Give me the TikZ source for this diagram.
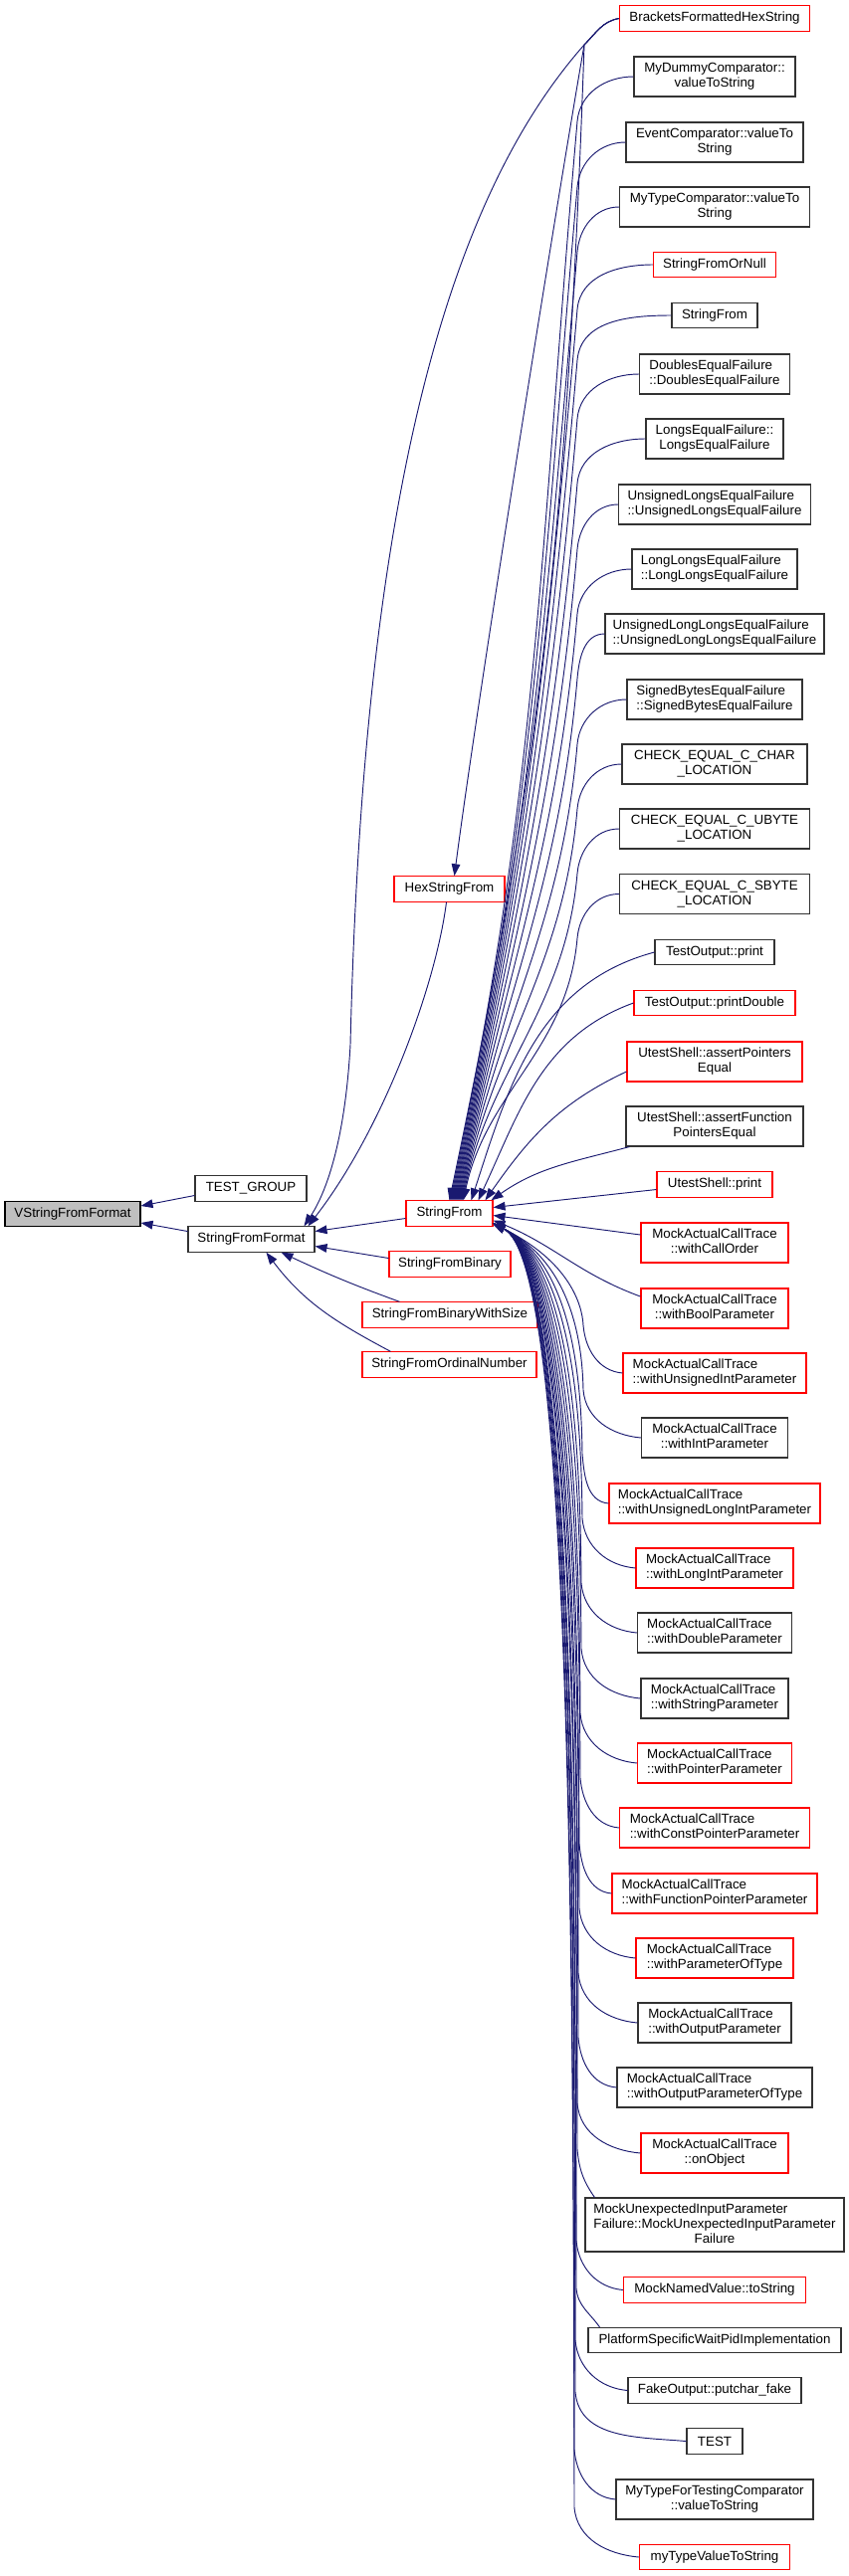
\documentclass[tikz,border=0pt]{standalone}
\usepackage{fontspec}
\setmainfont{Liberation Sans}
\usetikzlibrary{arrows.meta, calc}
\definecolor{edgeblue}{RGB}{25,25,112}
\definecolor{rootgrey}{RGB}{191,191,191}
\definecolor{truncred}{RGB}{255,0,0}
\newcommand{\dlabel}[2]{\begin{tabular}{@{}l@{}}#1\\\multicolumn{1}{@{}c@{}}{#2}\end{tabular}}
\tikzset{
  >={Triangle[length=9pt,width=6.5pt]},
  calledge/.style={->, draw=edgeblue, line width=0.7pt},
  fn/.style={draw=black!80, fill=white, line width=0.8pt,
             inner sep=0pt, minimum height=19pt},
  fn2/.style={fn, minimum height=30pt},
  fn3/.style={fn, minimum height=40.5pt},
  trunc/.style={draw=truncred},
  rootfn/.style={fill=rootgrey, draw=black},
  wd/.style={minimum width=#1*0.75pt},
}

\begin{document}
\begin{tikzpicture}[x=0.75pt, y=-0.75pt, font=\fontsize{10}{11.25}\selectfont]

  \fill[white] (0,0) rectangle (853,2589);
  \useasboundingbox (0,0) rectangle (853,2589);

  % ---- Left: the function and its callers ----
  \node[fn, rootfn, wd=136] (vsff) at (73,1220) {VStringFromFormat};
  \node[fn, wd=112] (testgroup) at (252,1194.5) {TEST\_GROUP};
  \node[fn, wd=127] (sff) at (252.5,1245.5) {StringFromFormat};

  % ---- Middle column ----
  \node[fn, trunc, wd=111] (hexsf) at (451.5,893.5) {HexStringFrom};
  \node[fn, trunc, wd=87]  (sfrom) at (451.5,1219.5) {StringFrom};
  \node[fn, trunc, wd=122] (sfbin) at (452,1270.5) {StringFromBinary};
  \node[fn, trunc, wd=176] (sfbws) at (452,1321.5) {StringFromBinaryWithSize};
  \node[fn, trunc, wd=175] (sford) at (451.5,1371.5) {StringFromOrdinalNumber};

  % ---- Right column ----
  \node[fn, trunc, wd=191] (bfhs) at (718,18.5) {BracketsFormattedHexString};
  \node[fn2, wd=162] (mydummy) at (718,77) {\dlabel{MyDummyComparator::}{valueToString}};
  \node[fn2, wd=178] (eventcmp) at (718,143) {\dlabel{EventComparator::valueTo}{String}};
  \node[fn2, wd=191] (mytypecmp) at (718,208) {\dlabel{MyTypeComparator::valueTo}{String}};
  \node[fn, trunc, wd=123] (sfornull) at (718,266) {StringFromOrNull};
  \node[fn, wd=86] (sfrom2) at (718,317) {StringFrom};
  \node[fn2, wd=151] (doubles) at (718,376) {\dlabel{DoublesEqualFailure}{::DoublesEqualFailure}};
  \node[fn2, wd=138] (longs) at (718,441) {\dlabel{LongsEqualFailure::}{LongsEqualFailure}};
  \node[fn2, wd=193] (ulongs) at (718,507) {\dlabel{UnsignedLongsEqualFailure}{::UnsignedLongsEqualFailure}};
  \node[fn2, wd=166] (llongs) at (718,572) {\dlabel{LongLongsEqualFailure}{::LongLongsEqualFailure}};
  \node[fn2, wd=220] (ullongs) at (718,637) {\dlabel{UnsignedLongLongsEqualFailure}{::UnsignedLongLongsEqualFailure}};
  \node[fn2, wd=176] (sbytes) at (718,703) {\dlabel{SignedBytesEqualFailure}{::SignedBytesEqualFailure}};
  \node[fn2, wd=186] (cchar) at (718,768) {\dlabel{CHECK\_EQUAL\_C\_CHAR}{\_LOCATION}};
  \node[fn2, wd=191] (cubyte) at (718,833) {\dlabel{CHECK\_EQUAL\_C\_UBYTE}{\_LOCATION}};
  \node[fn2, wd=191] (csbyte) at (718,898.5) {\dlabel{CHECK\_EQUAL\_C\_SBYTE}{\_LOCATION}};
  \node[fn, wd=120] (toprint) at (718,957) {TestOutput::print};
  \node[fn, trunc, wd=162] (toprintd) at (718,1008) {TestOutput::printDouble};
  \node[fn2, trunc, wd=176] (utptr) at (718,1067) {\dlabel{UtestShell::assertPointers}{Equal}};
  \node[fn2, wd=178] (utfptr) at (718,1132) {\dlabel{UtestShell::assertFunction}{PointersEqual}};
  \node[fn, trunc, wd=116] (utprint) at (718,1190.5) {UtestShell::print};
  \node[fn2, trunc, wd=148] (mcallorder) at (718,1249) {\dlabel{MockActualCallTrace}{::withCallOrder}};
  \node[fn2, trunc, wd=148] (mbool) at (718,1315) {\dlabel{MockActualCallTrace}{::withBoolParameter}};
  \node[fn2, trunc, wd=184] (muint) at (718,1380) {\dlabel{MockActualCallTrace}{::withUnsignedIntParameter}};
  \node[fn2, wd=147] (mint) at (718,1445) {\dlabel{MockActualCallTrace}{::withIntParameter}};
  \node[fn2, trunc, wd=212] (mulong) at (718,1511) {\dlabel{MockActualCallTrace}{::withUnsignedLongIntParameter}};
  \node[fn2, trunc, wd=158] (mlong) at (718,1576) {\dlabel{MockActualCallTrace}{::withLongIntParameter}};
  \node[fn2, wd=155] (mdouble) at (718,1641) {\dlabel{MockActualCallTrace}{::withDoubleParameter}};
  \node[fn2, wd=148] (mstring) at (718,1707) {\dlabel{MockActualCallTrace}{::withStringParameter}};
  \node[fn2, trunc, wd=155] (mptr) at (718,1772) {\dlabel{MockActualCallTrace}{::withPointerParameter}};
  \node[fn2, trunc, wd=191] (mcptr) at (718,1837) {\dlabel{MockActualCallTrace}{::withConstPointerParameter}};
  \node[fn2, trunc, wd=206] (mfptr) at (718,1903) {\dlabel{MockActualCallTrace}{::withFunctionPointerParameter}};
  \node[fn2, trunc, wd=158] (mpot) at (718,1968) {\dlabel{MockActualCallTrace}{::withParameterOfType}};
  \node[fn2, wd=154] (mout) at (718,2033) {\dlabel{MockActualCallTrace}{::withOutputParameter}};
  \node[fn2, wd=196] (moutt) at (718,2098) {\dlabel{MockActualCallTrace}{::withOutputParameterOfType}};
  \node[fn2, trunc, wd=148] (mobj) at (718,2164) {\dlabel{MockActualCallTrace}{::onObject}};
  \node[fn3, wd=260] (munexp) at (718,2236)
    {\dlabel{MockUnexpectedInputParameter\\Failure::MockUnexpectedInputParameter}{Failure}};
  \node[fn, trunc, wd=183] (mnvts) at (718,2301.5) {MockNamedValue::toString};
  \node[fn, wd=254] (pswpi) at (718,2352) {PlatformSpecificWaitPidImplementation};
  \node[fn, wd=174] (fakeout) at (718,2402.5) {FakeOutput::putchar\_fake};
  \node[fn, wd=56] (test) at (718,2453.5) {TEST};
  \node[fn2, wd=198] (mytftc) at (718,2512) {\dlabel{MyTypeForTestingComparator}{::valueToString}};
  \node[fn, trunc, wd=151] (mytvts) at (718,2570) {myTypeValueToString};

  % ---- Calls into VStringFromFormat and StringFromFormat ----
  \draw[calledge] ($(testgroup.west)+(0,7)$) -- ($(vsff.east)+(0,-8)$);
  \draw[calledge] ($(sff.west)+(0,-8)$) -- ($(vsff.east)+(0,9)$);
  \draw[calledge] ($(sfrom.west)+(0,5)$) -- ($(sff.east)+(0,-8)$);
  \draw[calledge] ($(sfbin.west)+(0,-6)$) -- ($(sff.east)+(0,7)$);
  \draw[calledge] ($(sfbws.north west)+(38,0)$) to[out=160,in=-25] ($(sff.south)+(30,0)$);
  \draw[calledge] ($(sford.north west)+(29,0)$) to[out=152,in=-53] ($(sff.south)+(15,0)$);
  \draw[calledge] ($(hexsf.south)+(-3,0)$) .. controls (438,990) and (385,1135) .. ($(sff.north)+(57,0)$);

  % ---- BracketsFormattedHexString ----
  \draw[calledge] (bfhs.west) to[out=190,in=45] (587,45)
    .. controls (450,200) and (365,500) .. (352,1050)
    .. controls (347,1140) and (330,1195) .. ($(sff.north)+(53,0)$);
  \draw[calledge] (bfhs.west) to[out=190,in=45] (587,45)
    .. controls (560,200) and (480,700) .. ($(hexsf.north)+(5,0)$);
  \draw[calledge] (bfhs.west) to[out=190,in=45] (587,45) to[out=268,in=78] (sfrom.north);

  % ---- Callers of StringFrom, from above ----
  \draw[calledge] (mydummy.west) to[out=180,in=85] (580,122) to[out=265,in=78] ($(sfrom.north)+(1,0)$);
  \draw[calledge] (eventcmp.west) to[out=180,in=85] (580,188) to[out=265,in=78] ($(sfrom.north)+(2,0)$);
  \draw[calledge] (mytypecmp.west) to[out=180,in=85] (580,253) to[out=265,in=78] ($(sfrom.north)+(3,0)$);
  \draw[calledge] (sfornull.west) to[out=180,in=85] (580,311) to[out=265,in=78] ($(sfrom.north)+(4,0)$);
  \draw[calledge] (sfrom2.west) to[out=180,in=85] (580,362) to[out=265,in=78] ($(sfrom.north)+(5,0)$);
  \draw[calledge] (doubles.west) to[out=180,in=85] (580,421) to[out=265,in=78] ($(sfrom.north)+(6,0)$);
  \draw[calledge] (longs.west) to[out=180,in=85] (580,486) to[out=265,in=78] ($(sfrom.north)+(7,0)$);
  \draw[calledge] (ulongs.west) to[out=180,in=85] (580,552) to[out=265,in=78] ($(sfrom.north)+(8,0)$);
  \draw[calledge] (llongs.west) to[out=180,in=85] (580,617) to[out=265,in=78] ($(sfrom.north)+(9,0)$);
  \draw[calledge] (ullongs.west) to[out=180,in=85] (580,682) to[out=265,in=78] ($(sfrom.north)+(10,0)$);
  \draw[calledge] (sbytes.west) to[out=180,in=85] (580,748) to[out=265,in=78] ($(sfrom.north)+(11,0)$);
  \draw[calledge] (cchar.west) to[out=180,in=85] (580,813) to[out=265,in=78] ($(sfrom.north)+(12,0)$);
  \draw[calledge] (cubyte.west) to[out=180,in=85] (580,878) to[out=265,in=78] ($(sfrom.north)+(13,0)$);
  \draw[calledge] (csbyte.west) to[out=180,in=85] (580,943) to[out=265,in=78] ($(sfrom.north)+(14,0)$);

  % ---- Callers of StringFrom, near its right side ----
  \draw[calledge] (toprint.west) to[out=195,in=72] ($(sfrom.north)+(22,0)$);
  \draw[calledge] (toprintd.west) to[out=200,in=65] ($(sfrom.north)+(29,0)$);
  \draw[calledge] ($(utptr.west)+(0,10)$) to[out=205,in=55] ($(sfrom.north)+(36,0)$);
  \draw[calledge] ($(utfptr.south west)+(4,0)$) to[out=195,in=35] ($(sfrom.north east)+(-2,0)$);
  \draw[calledge] ($(utprint.west)+(0,5)$) -- ($(sfrom.east)+(0,-6)$);
  \draw[calledge] ($(mcallorder.west)+(0,-8)$) -- ($(sfrom.east)+(0,2)$);
  \draw[calledge] ($(mbool.west)+(0,-12)$) to[out=160,in=-22] ($(sfrom.east)+(0,7)$);

  % ---- Callers of StringFrom, from below ----
  \draw[calledge] (muint.west) to[out=175,in=275] (586,1332)
    .. controls (585,1311) and (572,1268) .. ($(sfrom.south east)+(0,-3)$);
  \draw[calledge] (mint.west) to[out=175,in=275] (586,1397)
    .. controls (585,1344) and (572,1268) .. ($(sfrom.south east)+(0,-3)$);
  \draw[calledge] (mulong.west) to[out=175,in=275] (585,1461)
    .. controls (584,1376) and (572,1268) .. ($(sfrom.south east)+(0,-3)$);
  \draw[calledge] (mlong.west) to[out=175,in=275] (585,1526)
    .. controls (584,1408) and (572,1268) .. ($(sfrom.south east)+(0,-3)$);
  \draw[calledge] (mdouble.west) to[out=175,in=275] (584,1591)
    .. controls (583,1441) and (572,1268) .. ($(sfrom.south east)+(0,-3)$);
  \draw[calledge] (mstring.west) to[out=175,in=275] (584,1657)
    .. controls (583,1474) and (572,1268) .. ($(sfrom.south east)+(0,-3)$);
  \draw[calledge] (mptr.west) to[out=175,in=275] (583,1722)
    .. controls (582,1506) and (572,1268) .. ($(sfrom.south east)+(0,-3)$);
  \draw[calledge] (mcptr.west) to[out=175,in=275] (583,1787)
    .. controls (582,1539) and (572,1268) .. ($(sfrom.south east)+(0,-3)$);
  \draw[calledge] (mfptr.west) to[out=175,in=275] (582,1853)
    .. controls (581,1572) and (572,1268) .. ($(sfrom.south east)+(0,-3)$);
  \draw[calledge] (mpot.west) to[out=175,in=275] (582,1918)
    .. controls (581,1604) and (572,1268) .. ($(sfrom.south east)+(0,-3)$);
  \draw[calledge] (mout.west) to[out=175,in=275] (581,1983)
    .. controls (580,1637) and (572,1268) .. ($(sfrom.south east)+(0,-3)$);
  \draw[calledge] (moutt.west) to[out=175,in=275] (581,2048)
    .. controls (580,1669) and (572,1268) .. ($(sfrom.south east)+(0,-3)$);
  \draw[calledge] (mobj.west) to[out=175,in=275] (580,2114)
    .. controls (579,1702) and (572,1268) .. ($(sfrom.south east)+(0,-3)$);
  \draw[calledge] ($(munexp.north west)+(10,0)$) to[out=125,in=275] (580,2160)
    .. controls (579,1725) and (572,1268) .. ($(sfrom.south east)+(0,-3)$);
  \draw[calledge] (mnvts.west) to[out=175,in=275] (579,2252)
    .. controls (578,1771) and (572,1268) .. ($(sfrom.south east)+(0,-3)$);
  \draw[calledge] ($(pswpi.north west)+(12,0)$) to[out=125,in=275] (579,2300)
    .. controls (578,1795) and (572,1268) .. ($(sfrom.south east)+(0,-3)$);
  \draw[calledge] (fakeout.west) to[out=175,in=275] (578,2352)
    .. controls (577,1821) and (572,1268) .. ($(sfrom.south east)+(0,-3)$);
  \draw[calledge] (test.west) to[out=175,in=275] (578,2404)
    .. controls (577,1847) and (572,1268) .. ($(sfrom.south east)+(0,-3)$);
  \draw[calledge] (mytftc.west) to[out=175,in=275] (577,2462)
    .. controls (576,1876) and (572,1268) .. ($(sfrom.south east)+(0,-3)$);
  \draw[calledge] (mytvts.west) to[out=175,in=275] (577,2520)
    .. controls (576,1905) and (572,1268) .. ($(sfrom.south east)+(0,-3)$);

\end{tikzpicture}
\end{document}
